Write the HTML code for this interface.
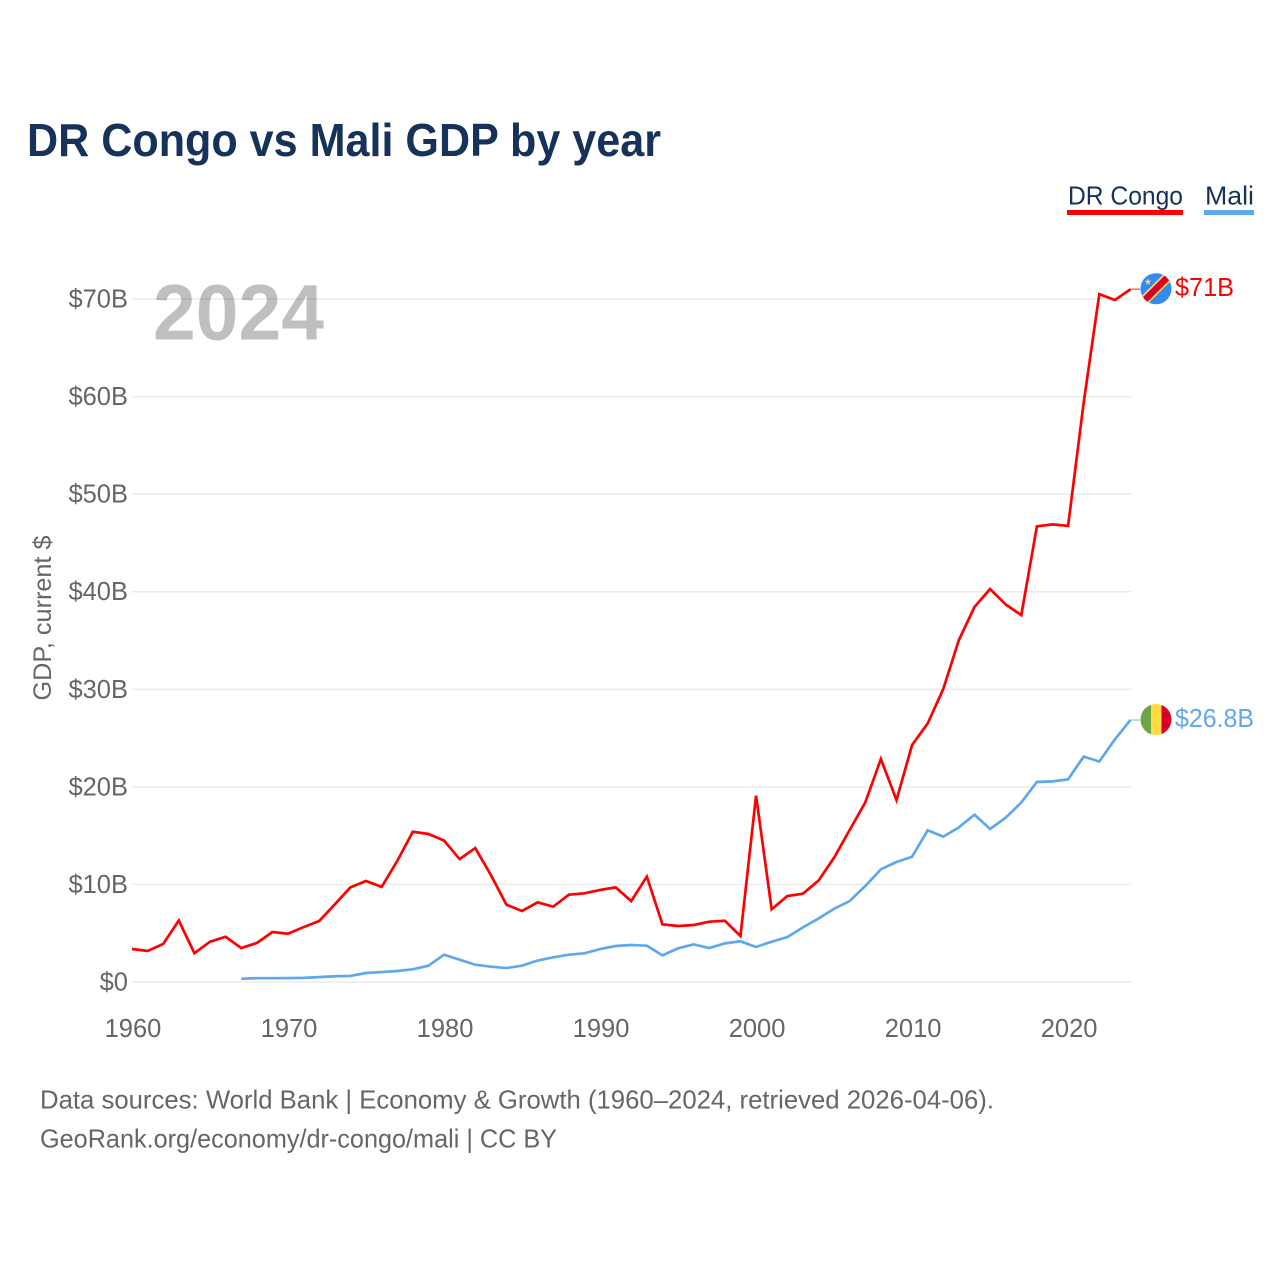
<!DOCTYPE html>
<html lang="en">
<head>
<meta charset="utf-8">
<title>DR Congo vs Mali GDP by year</title>
<style>
  html, body { margin: 0; padding: 0; background: #ffffff; }
  svg { display: block; font-family: "Liberation Sans", sans-serif; }
</style>
</head>
<body>
<svg id="chart" xmlns="http://www.w3.org/2000/svg" width="1280" height="1280" viewBox="0 0 1280 1280">
  <rect x="0" y="0" width="1280" height="1280" fill="#ffffff"/>
  <text x="27" y="156" font-size="46" font-weight="700" fill="#17325a" textLength="634" lengthAdjust="spacingAndGlyphs">DR Congo vs Mali GDP by year</text>

  <g>
    <g>
      <text x="1068" y="204.5" font-size="26" fill="#17325a" textLength="115" lengthAdjust="spacingAndGlyphs">DR Congo</text>
      <rect x="1067" y="210" width="116" height="5" fill="#ff0000"/>
    </g>
    <g>
      <text x="1205" y="204.5" font-size="26" fill="#17325a" textLength="49" lengthAdjust="spacingAndGlyphs">Mali</text>
      <rect x="1204" y="210" width="50" height="5" fill="#5fa8ee"/>
    </g>
  </g>

  <g id="grid"></g>
  <g id="y-axis"></g>
  <g id="x-axis"></g>
  <text transform="translate(51 618) rotate(-90)" text-anchor="middle" font-size="25" fill="#666666" textLength="165" lengthAdjust="spacingAndGlyphs">GDP, current $</text>
  <text x="153" y="339.5" font-size="79" font-weight="700" fill="#000000" fill-opacity="0.25" textLength="171" lengthAdjust="spacingAndGlyphs">2024</text>
  <g id="series"></g>
  <g id="end-markers"></g>

  <g>
    <text x="40" y="1108.5" font-size="26" fill="#666666" textLength="954" lengthAdjust="spacingAndGlyphs">Data sources: World Bank | Economy &amp; Growth (1960–2024, retrieved 2026-04-06).</text>
    <text x="40" y="1147.5" font-size="26" fill="#666666" textLength="517" lengthAdjust="spacingAndGlyphs">GeoRank.org/economy/dr-congo/mali | CC BY</text>
  </g>
</svg>

<script>
const years = [1960,1961,1962,1963,1964,1965,1966,1967,1968,1969,1970,1971,1972,1973,1974,1975,1976,1977,1978,1979,1980,1981,1982,1983,1984,1985,1986,1987,1988,1989,1990,1991,1992,1993,1994,1995,1996,1997,1998,1999,2000,2001,2002,2003,2004,2005,2006,2007,2008,2009,2010,2011,2012,2013,2014,2015,2016,2017,2018,2019,2020,2021,2022,2023,2024];
const drCongoValues = [3.38,3.18,3.9,6.3,2.95,4.13,4.64,3.48,4.0,5.12,4.95,5.63,6.25,7.96,9.7,10.35,9.74,12.4,15.4,15.17,14.5,12.6,13.73,10.97,7.92,7.28,8.17,7.72,8.95,9.09,9.43,9.7,8.3,10.8,5.91,5.74,5.84,6.18,6.28,4.71,19.1,7.45,8.81,9.05,10.38,12.74,15.58,18.4,22.85,18.65,24.29,26.5,30.03,35.05,38.43,40.28,38.7,37.6,46.7,46.9,46.75,59.4,70.5,69.9,71.0];
const maliValues = [null,null,null,null,null,null,null,0.34,0.39,0.39,0.4,0.42,0.5,0.59,0.62,0.92,1.02,1.13,1.3,1.67,2.8,2.29,1.77,1.57,1.43,1.67,2.2,2.53,2.8,2.94,3.38,3.69,3.79,3.72,2.73,3.45,3.86,3.48,3.96,4.17,3.59,4.13,4.6,5.6,6.5,7.5,8.3,9.84,11.55,12.3,12.84,15.55,14.9,15.85,17.15,15.68,16.84,18.4,20.5,20.56,20.77,23.1,22.6,24.87,26.85];
const yTickValues = [0,10,20,30,40,50,60,70];
const yTickLabels = ["$0","$10B","$20B","$30B","$40B","$50B","$60B","$70B"];
const xTickValues = [1960,1970,1980,1990,2000,2010,2020];
const xTickLabels = ["1960","1970","1980","1990","2000","2010","2020"];
const drCongoEndLabel = "$71B";
const maliEndLabel = "$26.8B";

const NS = "http://www.w3.org/2000/svg";
const plotLeft = 132, plotRight = 1131, plotBottom = 982, plotTop = 299;
const xMin = 1960, xMax = 2024, yMin = 0, yMax = 70;

function xScale(year) {
  return plotLeft + (year - xMin) / (xMax - xMin) * (plotRight - plotLeft - 0.5);
}
function yScale(value) {
  return plotBottom - (value - yMin) / (yMax - yMin) * (plotBottom - plotTop);
}
function make(tag, attrs, parent) {
  const el = document.createElementNS(NS, tag);
  Object.keys(attrs).forEach(function (k) { el.setAttribute(k, attrs[k]); });
  parent.appendChild(el);
  return el;
}
function linePath(values) {
  let d = "";
  values.forEach(function (v, i) {
    if (v === null) return;
    d += (d ? "L" : "M") + xScale(years[i]).toFixed(2) + " " + yScale(v).toFixed(2);
  });
  return d;
}

const gridLayer = document.getElementById("grid");
const yAxisLayer = document.getElementById("y-axis");
const xAxisLayer = document.getElementById("x-axis");
const seriesLayer = document.getElementById("series");
const markerLayer = document.getElementById("end-markers");

yTickValues.forEach(function (v, i) {
  const gl = make("line", { x1: plotLeft, x2: plotRight, y1: yScale(v), y2: yScale(v), stroke: "#ebebeb", "stroke-width": 1.5 }, gridLayer);
  
  
  const t = make("text", { x: 128, y: yScale(v) + 8.5, "text-anchor": "end", "font-size": 25.5, fill: "#666666" }, yAxisLayer);
  
  
  t.textContent = yTickLabels[i];
});

xTickValues.forEach(function (v, i) {
  const t = make("text", { x: xScale(v) + 1, y: 1037, "text-anchor": "middle", "font-size": 25.5, fill: "#666666" }, xAxisLayer);
  
  
  t.textContent = xTickLabels[i];
});

const maliLine = make("path", { d: linePath(maliValues), fill: "none", stroke: "#5fa8ee", "stroke-width": 2.7, "stroke-linejoin": "miter" }, seriesLayer);


const drcLine = make("path", { d: linePath(drCongoValues), fill: "none", stroke: "#ff0000", "stroke-width": 2.7, "stroke-linejoin": "miter" }, seriesLayer);



const flagX = 1156, flagR = 15.5, connectorEnd = 1140, labelX = 1175;
const lastYear = years[years.length - 1];
const drcLast = drCongoValues[drCongoValues.length - 1];
const maliLast = maliValues[maliValues.length - 1];

const defs = make("defs", {}, markerLayer);
const clipA = make("clipPath", { id: "clip-drc" }, defs);
make("circle", { cx: flagX, cy: yScale(drcLast) - 0.5, r: flagR }, clipA);
const clipB = make("clipPath", { id: "clip-mali" }, defs);
make("circle", { cx: flagX, cy: yScale(maliLast) - 0.5, r: flagR }, clipB);

/* DR Congo end marker */
const drcY = yScale(drcLast);
const drcConn = make("line", { x1: xScale(lastYear), x2: connectorEnd, y1: drcY, y2: drcY, stroke: "#ff0000", "stroke-width": 1.5, "stroke-opacity": 0.6 }, markerLayer);


const drcFlag = make("g", { "clip-path": "url(#clip-drc)" }, markerLayer);


make("rect", { x: flagX - 16, y: drcY - 16.5, width: 32, height: 32, fill: "#338af3" }, drcFlag);
const fy = drcY - 0.5;
make("line", { x1: flagX - 20, y1: fy + 20, x2: flagX + 20, y2: fy - 20, stroke: "#ffda44", "stroke-width": 10 }, drcFlag);
make("line", { x1: flagX - 20, y1: fy + 20, x2: flagX + 20, y2: fy - 20, stroke: "#d80027", "stroke-width": 6.5 }, drcFlag);
make("polygon", { points: [[0,-3.4],[0.9,-1],[3.4,-1],[1.4,0.6],[2.1,3],[0,1.6],[-2.1,3],[-1.4,0.6],[-3.4,-1],[-0.9,-1]].map(function (p) { return (flagX - 8 + p[0]) + "," + (fy - 7 + p[1]); }).join(" "), fill: "#ffda44" }, drcFlag);
const drcLabel = make("text", { x: labelX, y: drcY + 7, "font-size": 25.5, fill: "#ff0000", textLength: 59, lengthAdjust: "spacingAndGlyphs" }, markerLayer);


drcLabel.textContent = drCongoEndLabel;

/* Mali end marker */
const maliY = yScale(maliLast);
const maliConn = make("line", { x1: xScale(lastYear), x2: connectorEnd, y1: maliY, y2: maliY, stroke: "#5fa8ee", "stroke-width": 1.5, "stroke-opacity": 0.6 }, markerLayer);


const maliFlag = make("g", { "clip-path": "url(#clip-mali)" }, markerLayer);


make("rect", { x: flagX - 16, y: maliY - 17, width: 11, height: 33, fill: "#6da544" }, maliFlag);
make("rect", { x: flagX - 5, y: maliY - 17, width: 10.5, height: 33, fill: "#ffda44" }, maliFlag);
make("rect", { x: flagX + 5.5, y: maliY - 17, width: 11, height: 33, fill: "#d80027" }, maliFlag);
const maliLabel = make("text", { x: labelX, y: maliY + 7, "font-size": 25.5, fill: "#5fa8ee", textLength: 79, lengthAdjust: "spacingAndGlyphs" }, markerLayer);


maliLabel.textContent = maliEndLabel;
</script>
</body>
</html>
